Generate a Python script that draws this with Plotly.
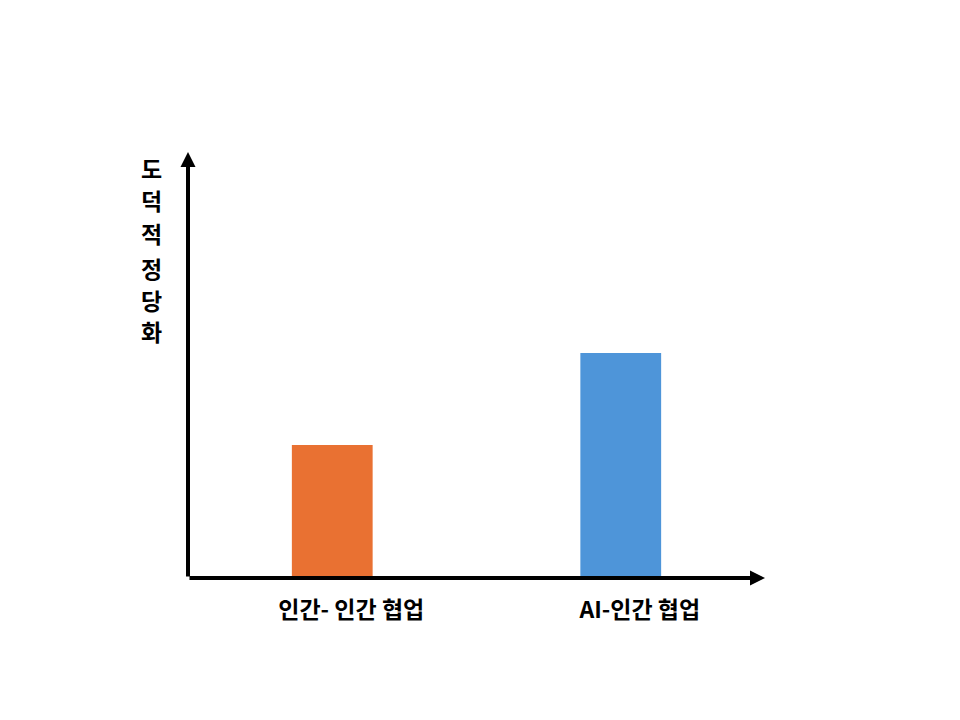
import plotly.graph_objects as go

categories = ["인간- 인간 협업", "AI-인간 협업"]
values = [31.2, 52.8]
colors = ["#E97132", "#4E95D9"]
y_label_chars = ["도", "덕", "적", "정", "당", "화"]
y_label_centers_px = [168, 200, 233, 268, 300, 331]

FONT = "Noto Sans CJK KR"
OFF = 8  # page body offset

# desired plot area on screen
X0, X1, Y0, Y1 = 188, 765, 152, 578
L = X0 - OFF
R = 960 - (X1 - OFF)
T = Y0 - OFF
B = 720 - (Y1 - OFF)
W = X1 - X0
H = Y1 - Y0

fig = go.Figure()
fig.add_trace(go.Bar(
    x=[0, 1], y=values, marker=dict(color=colors, line=dict(width=0)),
    width=0.28, showlegend=False, hoverinfo="skip",
))

fig.update_layout(
    width=960, height=720,
    margin=dict(l=L, r=R, t=T, b=B, pad=0),
    paper_bgcolor="white", plot_bgcolor="white",
    xaxis=dict(range=[-0.5, 1.5], tickmode="array", tickvals=[0, 1],
               ticktext=categories, showgrid=False, zeroline=False,
               showline=False, ticks="", ticklabelstandoff=16,
               ticklabelshift=19,
               tickfont=dict(family=FONT, size=23, color="black", weight=600)),
    yaxis=dict(range=[0, 100], showgrid=False, zeroline=False,
               showline=False, showticklabels=False, ticks=""),
    font=dict(family=FONT),
)

# axis arrows
fig.add_annotation(xref="paper", yref="paper", x=0, y=1, ax=0, ay=H,
                   axref="pixel", ayref="pixel", showarrow=True,
                   arrowhead=2, arrowsize=0.75, arrowwidth=4,
                   arrowcolor="black", text="", standoff=0)
fig.add_annotation(xref="paper", yref="paper", x=1, y=0, ax=-W, ay=0,
                   axref="pixel", ayref="pixel", showarrow=True,
                   arrowhead=2, arrowsize=0.75, arrowwidth=4,
                   arrowcolor="black", text="", standoff=0)

# vertical stacked y label, one character per line
for ch, yc in zip(y_label_chars, y_label_centers_px):
    fig.add_annotation(xref="paper", yref="paper",
                       x=(151 - X0) / W, y=(Y1 - yc) / H,
                       xanchor="center", yanchor="middle", showarrow=False,
                       text=ch,
                       font=dict(family=FONT, size=23, color="black", weight=600))

fig.write_html("out.html")
